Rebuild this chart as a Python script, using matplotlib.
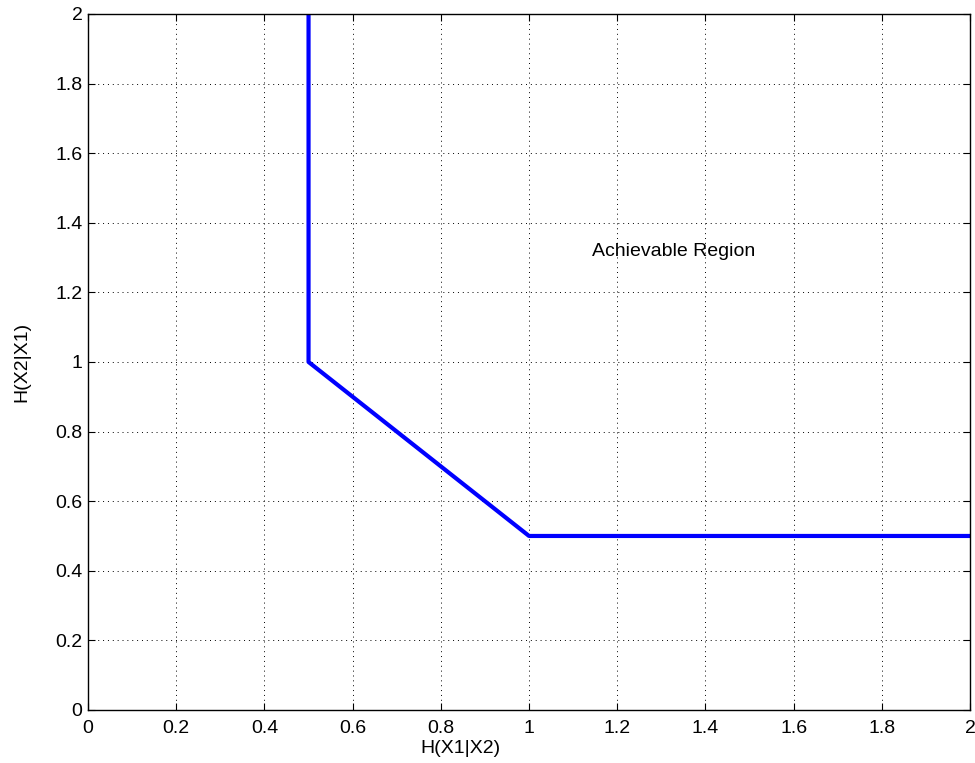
import matplotlib.pyplot as plt

# corner points of the rate region boundary
rate_x = [0.5, 0.5, 1.0, 2.0]
rate_y = [2.0, 1.0, 0.5, 0.5]
ticks = [0, 0.2, 0.4, 0.6, 0.8, 1, 1.2, 1.4, 1.6, 1.8, 2]
tick_labels = ['0', '0.2', '0.4', '0.6', '0.8', '1', '1.2', '1.4', '1.6', '1.8', '2']

plt.rcParams['font.family'] = ['Liberation Sans', 'DejaVu Sans']
plt.rcParams['font.size'] = 14

fig = plt.figure(figsize=(9.75, 7.63), dpi=100)
ax = fig.add_axes([0.0903, 0.0695, 0.9046, 0.9122])

ax.plot(rate_x, rate_y, color='#0000ff', linewidth=3)

ax.set_xlim(0, 2)
ax.set_ylim(0, 2)
ax.set_xticks(ticks)
ax.set_xticklabels(tick_labels)
ax.set_yticks(ticks)
ax.set_yticklabels(tick_labels)
ax.tick_params(direction='in', top=True, right=True, length=5, width=0.8)
ax.tick_params(axis='x', pad=7)
ax.tick_params(axis='y', pad=4)
ax.grid(True, linestyle=(0, (1, 4)), color='black', linewidth=0.7)
for s in ax.spines.values():
    s.set_linewidth(1.0)

ax.set_xlabel('H(X1|X2)')
ax.xaxis.set_label_coords(0.422, -0.056)
ax.xaxis.label.set_va('center')
ax.set_ylabel('H(X2|X1)')
ax.yaxis.set_label_coords(-0.075, 0.5)
ax.yaxis.label.set_va('center')
ax.text(1.143, 1.316, 'Achievable Region', ha='left', va='center')

fig.savefig('out.png', dpi=100)
